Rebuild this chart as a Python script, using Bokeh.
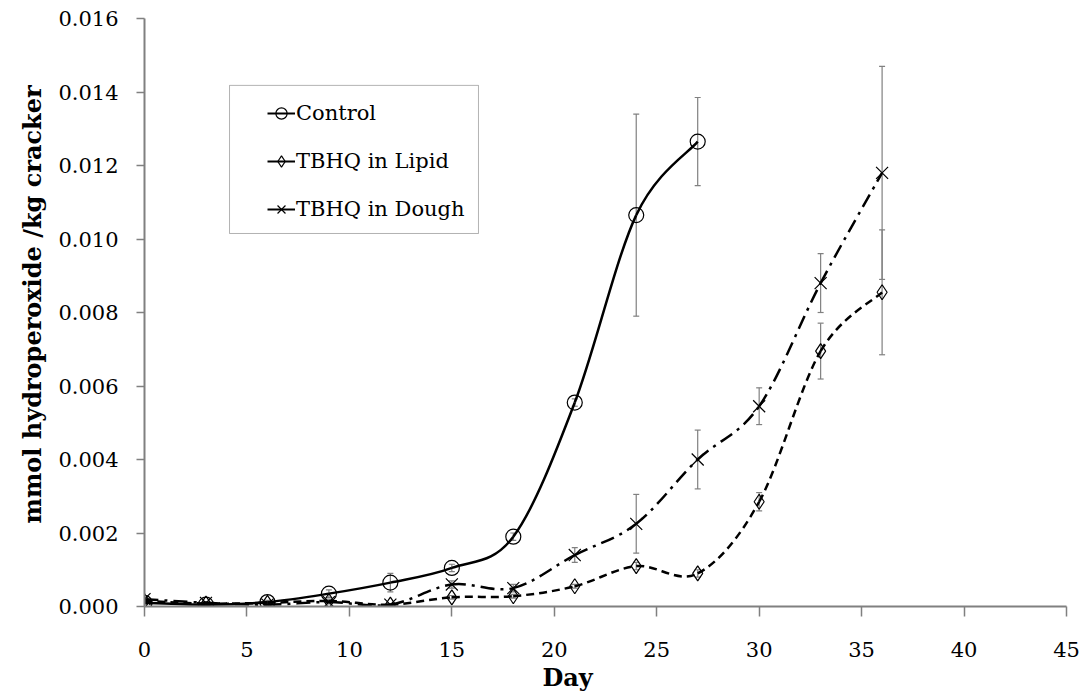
from bokeh.plotting import figure
from bokeh.models import (ColumnDataSource, Whisker, TeeHead, Legend, LegendItem,
                          NumeralTickFormatter, FixedTicker, Range1d, Title, BoxAnnotation)
from bokeh.embed import file_html
from bokeh.resources import INLINE

# ---------------- data ----------------
control_days = [0, 3, 6, 9, 12, 15, 18, 21, 24, 27]
control = [0.0001, 0.00005, 0.00012, 0.00035, 0.00065, 0.00105, 0.0019, 0.00555, 0.01065, 0.01265]
control_err = [0.00005, 0.00003, 0.00005, 0.0001, 0.00025, 0.0001, 0.0001, 0.0001, 0.00275, 0.0012]

treat_days = [0, 3, 6, 9, 12, 15, 18, 21, 24, 27, 30, 33, 36]
lipid = [0.00015, 0.00008, 0.0001, 0.00015, 0.00005, 0.00025, 0.00028, 0.00055, 0.0011, 0.0009, 0.00285, 0.00695, 0.00855]
lipid_err = [0.00003, 0.00003, 0.00003, 0.00005, 0.00003, 0.00005, 0.00005, 0.00005, 0.0001, 0.0001, 0.00025, 0.00076, 0.0017]
dough = [0.0002, 0.0001, 0.00005, 0.00012, 0.00005, 0.0006, 0.0005, 0.0014, 0.00225, 0.004, 0.00545, 0.0088, 0.0118]
dough_err = [0.00005, 0.00003, 0.00003, 0.00005, 0.00003, 0.0001, 0.0001, 0.0002, 0.0008, 0.0008, 0.0005, 0.0008, 0.0029]

series_names = ["Control", "TBHQ in Lipid", "TBHQ in Dough"]
x_ticks = [0, 5, 10, 15, 20, 25, 30, 35, 40, 45]
y_ticks = [0.0, 0.002, 0.004, 0.006, 0.008, 0.010, 0.012, 0.014, 0.016]

SERIF = "DejaVu Serif"
GRAY = "#808080"

p = figure(width=1090, height=700, output_backend="svg", toolbar_location=None,
           x_range=Range1d(0, 45), y_range=Range1d(0, 0.016),
           min_border_left=144, min_border_right=24, min_border_top=18, min_border_bottom=94)
p.xgrid.visible = False
p.ygrid.visible = False
p.outline_line_color = None
p.background_fill_color = "white"
p.border_fill_color = "white"


def smooth_source(xs, ys):
    n = len(xs)
    d = dict(x0=[], y0=[], x1=[], y1=[], cx0=[], cy0=[], cx1=[], cy1=[])
    for i in range(n - 1):
        a = i - 1 if i > 0 else i
        b = i + 2 if i + 2 < n else i + 1
        d["x0"].append(xs[i]); d["y0"].append(ys[i])
        d["x1"].append(xs[i + 1]); d["y1"].append(ys[i + 1])
        d["cx0"].append(xs[i] + (xs[i + 1] - xs[a]) / 6.0)
        d["cy0"].append(ys[i] + (ys[i + 1] - ys[a]) / 6.0)
        d["cx1"].append(xs[i + 1] - (xs[b] - xs[i]) / 6.0)
        d["cy1"].append(ys[i + 1] - (ys[b] - ys[i]) / 6.0)
    return ColumnDataSource(d)


specs = [
    (control_days, control, control_err, "solid", "circle", 15),
    (treat_days, lipid, lipid_err, "8 5", "diamond", 15),
    (treat_days, dough, dough_err, "14 6 3 6", "x", 17),
]

# legend frame (drawn behind the legend entries)
p.add_layout(BoxAnnotation(left=4.15, right=16.3, bottom=0.01015, top=0.01418,
                           fill_color="white", fill_alpha=1.0,
                           line_color="black", line_width=1))

items = []
for (xs, ys, es, dash, marker, msize), name in zip(specs, series_names):
    src = ColumnDataSource(dict(x=xs, y=ys,
                                lo=[v - e for v, e in zip(ys, es)],
                                hi=[v + e for v, e in zip(ys, es)]))
    w = Whisker(source=src, base="x", lower="lo", upper="hi", line_color=GRAY, line_width=1.2,
                upper_head=TeeHead(size=6, line_color=GRAY, line_width=1.2),
                lower_head=TeeHead(size=6, line_color=GRAY, line_width=1.2))
    p.add_layout(w)
    p.bezier(x0="x0", y0="y0", x1="x1", y1="y1", cx0="cx0", cy0="cy0", cx1="cx1", cy1="cy1",
             source=smooth_source(xs, ys), line_color="black", line_width=2.5, line_dash=dash)
    # legend-only line sample (a single NaN point draws nothing in the plot)
    proxy = p.line(x=[float("nan")], y=[float("nan")], line_color="black", line_width=2)
    sc = p.scatter(x="x", y="y", source=src, marker=marker, size=msize,
                   fill_color=None, line_color="black", line_width=1.2)
    items.append(LegendItem(label=name, renderers=[proxy, sc]))

legend = Legend(items=items, location=(123, 380), glyph_width=28, glyph_height=34,
                label_text_font=SERIF, label_text_font_size="21px", label_text_color="black",
                label_standoff=1, spacing=14, padding=0, margin=0,
                border_line_color=None, background_fill_alpha=0, label_height=34)
p.add_layout(legend, "center")

for ax in (p.xaxis, p.yaxis):
    ax.axis_line_color = GRAY
    ax.axis_line_width = 2
    ax.major_tick_line_color = GRAY
    ax.major_tick_line_width = 1.5
    ax.major_tick_in = 0
    ax.minor_tick_line_color = None
    ax.major_label_text_font = SERIF
    ax.major_label_text_font_size = "21px"
    ax.major_label_text_color = "black"

p.xaxis.major_tick_out = 10
p.yaxis.major_tick_out = 8
p.xaxis.ticker = FixedTicker(ticks=x_ticks)
p.yaxis.ticker = FixedTicker(ticks=y_ticks)
p.yaxis.formatter = NumeralTickFormatter(format="0.000")
p.xaxis.major_label_standoff = 25
p.yaxis.major_label_standoff = 18

p.add_layout(Title(text="mmol hydroperoxide /kg cracker", align="left", offset=83,
                   text_font=SERIF, text_font_size="24px", text_font_style="bold",
                   text_color="black", standoff=18), "left")
p.add_layout(Title(text="Day", align="left", offset=398, text_font=SERIF,
                   text_font_size="24px", text_font_style="bold", text_color="black",
                   standoff=2), "below")

open("out.html", "w").write(file_html(p, INLINE))
